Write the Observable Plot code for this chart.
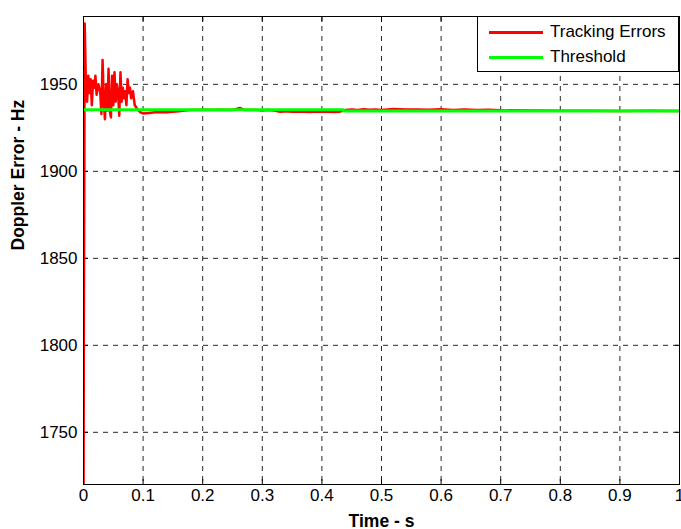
<!DOCTYPE html>
<html>
<head>
<meta charset="utf-8">
<script src="https://cdn.jsdelivr.net/npm/d3@7"></script>
<script src="https://cdn.jsdelivr.net/npm/@observablehq/plot@0.6"></script>
<style>
  html, body { margin: 0; padding: 0; background: #fff; }
  #wrap { position: relative; width: 681px; height: 529px; font-family: "Liberation Sans", Arial, sans-serif; }
  #legend { position: absolute; left: 477px; top: 16px; width: 202px; height: 56px; box-sizing: border-box;
            border: 1px solid #000; background: #fff; font-size: 17px; color: #000; }
  .item { position: absolute; left: 11px; display: flex; align-items: center; }
  .sw { width: 54px; height: 3px; margin-right: 7px; }
</style>
</head>
<body>
<div id="wrap"></div>
<script>
// Tracking error series (time in s, Doppler error in Hz)
const errTime = [0, 0.0005, 0.002, 0.004, 0.006, 0.008, 0.010, 0.012, 0.014, 0.016, 0.018, 0.020, 0.022, 0.025, 0.028, 0.030, 0.032, 0.034, 0.036, 0.038, 0.040, 0.042, 0.044, 0.046, 0.048, 0.050, 0.052, 0.054, 0.056, 0.058, 0.060, 0.062, 0.064, 0.066, 0.068, 0.070, 0.072, 0.074, 0.076, 0.078, 0.080, 0.083, 0.086, 0.090, 0.095, 0.100, 0.11, 0.12, 0.13, 0.14, 0.15, 0.16, 0.17, 0.18, 0.19, 0.20, 0.21, 0.22, 0.23, 0.24, 0.25, 0.262, 0.27, 0.28, 0.29, 0.30, 0.31, 0.32, 0.33, 0.34, 0.35, 0.36, 0.37, 0.38, 0.39, 0.40, 0.41, 0.42, 0.43, 0.44, 0.45, 0.46, 0.47, 0.48, 0.49, 0.50, 0.52, 0.54, 0.56, 0.58, 0.60, 0.62, 0.64, 0.66, 0.68, 0.70, 0.75, 0.80, 0.85, 0.90, 0.95, 1.0];
const errValue = [1700, 1800, 1985, 1950, 1940, 1955, 1945, 1953, 1938, 1952, 1948, 1955, 1944, 1950, 1946, 1933, 1964, 1940, 1930, 1950, 1935, 1959, 1935, 1931, 1955, 1938, 1957, 1940, 1950, 1945, 1932, 1957, 1940, 1948, 1942, 1946, 1938, 1953, 1945, 1948, 1942, 1946, 1938, 1936, 1934, 1933.3, 1933.6, 1933.9, 1934.1, 1933.9, 1934.2, 1934.5, 1935.0, 1935.3, 1935.2, 1935.4, 1935.3, 1935.2, 1935.4, 1935.3, 1935.2, 1936.4, 1935.3, 1935.2, 1935.3, 1935.0, 1935.3, 1934.9, 1934.3, 1934.5, 1934.2, 1934.4, 1934.3, 1934.1, 1934.4, 1934.2, 1934.3, 1934.1, 1934.3, 1935.3, 1935.6, 1935.2, 1935.7, 1935.4, 1935.6, 1935.3, 1935.8, 1935.5, 1935.6, 1935.4, 1935.7, 1935.3, 1935.5, 1935.2, 1935.4, 1935.1, 1934.9, 1934.8, 1934.8, 1934.7, 1934.8, 1934.7];
// Threshold series
const thrTime = [0, 0.436, 0.436, 1.0];
const thrValue = [1935.4, 1935.4, 1934.7, 1934.7];
// Axis ticks
const xTicks = [0, 0.1, 0.2, 0.3, 0.4, 0.5, 0.6, 0.7, 0.8, 0.9, 1];
const yTicks = [1750, 1800, 1850, 1900, 1950];
const seriesNames = ["Tracking Errors", "Threshold"];
const seriesColors = ["#ff0000", "#00ff00"];

const errData = errTime.map((t, i) => ({t, v: errValue[i]}));
const thrData = thrTime.map((t, i) => ({t, v: thrValue[i]}));

const fmtX = d => d === 0 ? "0" : d === 1 ? "1" : d3.format(".1f")(d);
const chart = Plot.plot({
  width: 681,
  height: 529,
  marginLeft: 83,
  marginRight: 2,
  marginTop: 16,
  marginBottom: 45,
  style: {fontFamily: "'Liberation Sans', Arial, sans-serif", fontSize: "17px", color: "#000", background: "#fff"},
  x: {domain: [0, 1], ticks: xTicks, label: null},
  y: {domain: [1720, 1989], ticks: yTicks, label: null},
  marks: [
    Plot.gridX(xTicks.slice(1, -1), {stroke: "#000", strokeOpacity: 0.85, strokeDasharray: "5,5"}),
    Plot.gridY(yTicks, {stroke: "#000", strokeOpacity: 0.85, strokeDasharray: "5,5"}),
    Plot.axisX(xTicks, {anchor: "bottom", tickSize: 0, tickPadding: 4, tickFormat: fmtX, fontSize: 17}),
    Plot.axisX(xTicks, {anchor: "bottom", tickSize: -5, tickFormat: () => ""}),
    Plot.axisX(xTicks, {anchor: "top", tickSize: -5, tickFormat: () => ""}),
    Plot.axisY(yTicks, {anchor: "left", tickSize: 0, tickPadding: 6, tickFormat: d => String(d), fontSize: 17}),
    Plot.axisY(yTicks, {anchor: "left", tickSize: -5, tickFormat: () => ""}),
    Plot.axisY(yTicks, {anchor: "right", tickSize: -5, tickFormat: () => ""}),
    Plot.line(errData, {x: "t", y: "v", stroke: seriesColors[0], strokeWidth: 2.5, clip: true}),
    Plot.line(thrData, {x: "t", y: "v", stroke: seriesColors[1], strokeWidth: 3, clip: true}),
    Plot.frame({stroke: "#000"}),
    Plot.text(["Time - s"], {frameAnchor: "bottom", lineAnchor: "middle", dy: 37, fontWeight: "bold", fontSize: 17.5}),
    Plot.text(["Doppler Error - Hz"], {frameAnchor: "left", dx: -65, rotate: -90, fontWeight: "bold", fontSize: 17.5})
  ]
});
const wrap = document.getElementById("wrap");
wrap.appendChild(chart);
const legend = document.createElement("div");
legend.id = "legend";
seriesNames.forEach((name, i) => {
  const item = document.createElement("div");
  item.className = "item";
  item.style.top = (i === 0 ? 5 : 30) + "px";
  item.innerHTML = `<span class="sw" style="background:${seriesColors[i]}"></span><span>${name}</span>`;
  legend.appendChild(item);
});
wrap.appendChild(legend);
</script>
</body>
</html>
